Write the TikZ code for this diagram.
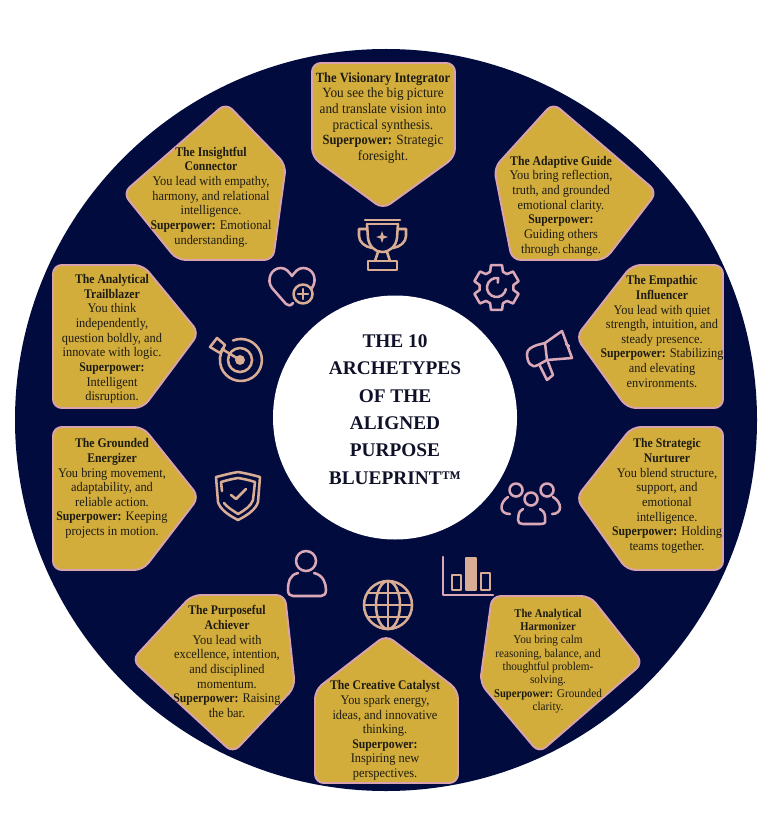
\documentclass[tikz,border=0pt]{standalone}
\usepackage{fontspec}
\setmainfont[FakeStretch=0.94, BoldFeatures={FakeStretch=0.89}]{Liberation Serif}
\newfontfamily\titlefont{Liberation Serif}
\definecolor{wheelnavy}{HTML}{020B3E}
\definecolor{cardgold}{HTML}{D2AD3C}
\definecolor{cardpink}{HTML}{D8A3AE}
\definecolor{iconpink}{HTML}{DAA8B6}
\definecolor{icontan}{HTML}{D9AC94}
\definecolor{cardink}{HTML}{1E1C12}
\definecolor{titleink}{HTML}{0F1128}
\tikzset{
    card/.style={fill=cardgold, draw=cardpink, line width=1.1pt, rounded corners=5pt},
    cardtext/.style={align=center, text=cardink, inner sep=0pt, font=\fontsize{7.5}{8.33}\selectfont},
    cardlarge/.style={cardtext, font=\fontsize{8}{8.88}\selectfont},
    cardsmall/.style={cardtext, font=\fontsize{6.8}{7.55}\selectfont},
    icon/.style={draw=iconpink, line width=1.45pt, line join=round, line cap=round},
    iconwarm/.style={icon, draw=icontan},
    titletext/.style={align=center, text=titleink, inner sep=0pt, font=\titlefont\fontsize{11}{15.6}\selectfont\bfseries}
}
\begin{document}
\begin{tikzpicture}[x=0.02cm, y=-0.02cm]
    \useasboundingbox (0,0) rectangle (768,817);

    % Wheel
    \fill[wheelnavy] (386,420) circle (371);
    \fill[white] (395,417.5) circle (122);
    \node[titletext] (title) at (395,409.5) {THE 10\\ARCHETYPES\\OF THE\\ALIGNED\\PURPOSE\\BLUEPRINT™};

    % Cards
    \draw[card] (312,63) -- (455,63) -- (455,157) -- (383,209) -- (312,157) -- cycle;
    \draw[card] (226,103) -- (286,165) -- (273,260) -- (177,260) -- (123,193) -- cycle;
    \draw[card] (553,103) -- (657,192) -- (605,260) -- (512,260) -- (494,168) -- cycle;
    \draw[card] (576,337) -- (632,265) -- (723,265) -- (723,408) -- (627,408) -- cycle;
    \draw[card] (576,498) -- (632,427) -- (723,427) -- (723,570) -- (627,570) -- cycle;
    \draw[card] (492,596) -- (590,596) -- (643,663) -- (539,753) -- (480,683) -- cycle;
    \draw[card] (386,635) -- (458,690) -- (458,783) -- (315,783) -- (315,690) -- cycle;
    \draw[card] (192,595) -- (285,595) -- (295,687) -- (233,753) -- (132,660) -- cycle;
    \draw[card] (53,427) -- (143,427) -- (199,497) -- (143,570) -- (53,570) -- cycle;
    \draw[card] (53,265) -- (143,265) -- (199,333) -- (143,408) -- (53,408) -- cycle;

    % Card texts
    \node[cardlarge] (visionary) at (383,118) {\textbf{The Visionary Integrator}\\You see the big picture\\and translate vision into\\practical synthesis.\\\textbf{Superpower:} Strategic\\foresight.};
    \node[cardtext] (insightful) at (211,197) {\textbf{The Insightful}\\\textbf{Connector}\\You lead with empathy,\\harmony, and relational\\intelligence.\\\textbf{Superpower:} Emotional\\understanding.};
    \node[cardtext] (adaptive) at (561,206) {\textbf{The Adaptive Guide}\\You bring reflection,\\truth, and grounded\\emotional clarity.\\\textbf{Superpower:}\\Guiding others\\through change.};
    \node[cardtext] (empathic) at (662,331.5) {\textbf{The Empathic}\\\textbf{Influencer}\\You lead with quiet\\strength, intuition, and\\steady presence.\\\textbf{Superpower:} Stabilizing\\and elevating\\environments.};
    \node[cardtext] (strategic) at (667,496) {\textbf{The Strategic}\\\textbf{Nurturer}\\You blend structure,\\support, and\\emotional\\intelligence.\\\textbf{Superpower:} Holding\\teams together.};
    \node[cardsmall] (harmonizer) at (548,661) {\textbf{The Analytical}\\\textbf{Harmonizer}\\You bring calm\\reasoning, balance, and\\thoughtful problem-\\solving.\\\textbf{Superpower:} Grounded\\clarity.};
    \node[cardtext] (creative) at (385,730.5) {\textbf{The Creative Catalyst}\\You spark energy,\\ideas, and innovative\\thinking.\\\textbf{Superpower:}\\Inspiring new\\perspectives.};
    \node[cardtext] (purposeful) at (227,661.5) {\textbf{The Purposeful}\\\textbf{Achiever}\\You lead with\\excellence, intention,\\and disciplined\\momentum.\\\textbf{Superpower:} Raising\\the bar.};
    \node[cardtext] (grounded) at (112,488.5) {\textbf{The Grounded}\\\textbf{Energizer}\\You bring movement,\\adaptability, and\\reliable action.\\\textbf{Superpower:} Keeping\\projects in motion.};
    \node[cardtext] (trailblazer) at (112,339) {\textbf{The Analytical}\\\textbf{Trailblazer}\\You think\\independently,\\question boldly, and\\innovate with logic.\\\textbf{Superpower:}\\Intelligent\\disruption.};

    % Trophy
    \draw[iconwarm] (365,220) -- (400,220) (367,224) -- (398,224);
    \draw[iconwarm] (367,224) -- (368,238) .. controls (369,246) and (375,252) .. (382,252) .. controls (390,252) and (396,246) .. (397,238) -- (398,224);
    \draw[iconwarm] (367,229) -- (359,229) -- (359,236) .. controls (359,242) and (365,247) .. (372,248);
    \draw[iconwarm] (398,229) -- (406,229) -- (406,236) .. controls (406,242) and (400,247) .. (393,248);
    \draw[iconwarm] (378,252) -- (375,261) (387,252) -- (390,261);
    \draw[iconwarm] (368,261) rectangle (397,270);
    \fill[icontan] (382,231) -- (383.5,235.5) -- (388,237) -- (383.5,238.5) -- (382,243) -- (380.5,238.5) -- (376,237) -- (380.5,235.5) -- cycle;

    % Heart
    \draw[icon] (312,288) .. controls (318,279) and (313,268) .. (303,268) .. controls (298,268) and (295,272) .. (292,276) .. controls (289,272) and (286,268) .. (281,268) .. controls (271,268) and (266,280) .. (272,288) -- (286,304) .. controls (288,306) and (291,306) .. (293,303);
    \draw[iconwarm] (303,294) circle (9.5);
    \draw[iconwarm] (298,294) -- (308,294) (303,289) -- (303,299);

    % Gear
    \begin{scope}[shift={(496.5,287.5)}]
        \foreach \a in {30,90,...,330}{
            \draw[icon] (\a-22:17) -- (\a-14:23) -- (\a+14:23) -- (\a+22:17) -- (\a+38:17);
        }
        \draw[icon] (10:9.5) arc (10:280:9.5) -- (285:5);
    \end{scope}

    % Megaphone
    \draw[icon] (545,343) -- (562,331) -- (572,358) -- (547,360) -- (538,365) .. controls (531,369) and (527,362) .. (527,354) .. controls (527,349) and (532,347) .. (537,345) -- (545,343);
    \draw[icon] (545,343) -- (547,360);
    \draw[icon] (540,366) -- (547,380) -- (553,375) -- (548,362);
    \draw[icon] (566,344) -- (569,346);

    % People
    \draw[icon] (516,490) circle (6.5) (547,490) circle (6.5) (531,499) circle (6.5);
    \draw[icon] (523,509) .. controls (517,512) and (519,517) .. (518,520) .. controls (518,523) and (520,524) .. (523,524) -- (540,524) .. controls (544,524) and (546,523) .. (545,520) .. controls (545,517) and (546,512) .. (540,509);
    \draw[icon] (508,497) .. controls (500,502) and (498,514) .. (510,514);
    \draw[icon] (553,497) .. controls (562,502) and (563,514) .. (552,514);

    % Chart
    \draw[icon] (443,557) -- (443,595) -- (493,595);
    \draw[iconwarm] (452,575) rectangle (461,590);
    \draw[iconwarm, fill=icontan] (466,558) rectangle (476,590);
    \draw[iconwarm] (481,573) rectangle (490,590);

    % Globe
    \draw[iconwarm] (388,605) circle (24);
    \draw[iconwarm] (388,605) ellipse (12 and 24);
    \draw[iconwarm] (388,581) -- (388,629) (364,605) -- (412,605) (368,593) -- (408,593) (368,617) -- (408,617);

    % Person
    \draw[icon] (306,561) circle (10);
    \draw[icon] (298,573) .. controls (289,575) and (288,583) .. (288,590) .. controls (288,594) and (290,596) .. (293,596) -- (321,596) .. controls (324,596) and (326,594) .. (326,590) .. controls (326,583) and (323,575) .. (314,573);

    % Shield
    \draw[iconwarm] (216,477) .. controls (228,474) and (232,473) .. (238,472) .. controls (244,473) and (249,474) .. (260,477) -- (258,502) .. controls (256,509) and (248,515) .. (238,520) .. controls (228,515) and (220,509) .. (218,502) -- cycle;
    \draw[iconwarm] (222,491) -- (221,482) .. controls (228,480) and (232,479) .. (238,478) .. controls (244,479) and (249,480) .. (255,482) -- (253,500) .. controls (251,506) and (245,510) .. (238,514) .. controls (232,510) and (227,507) .. (224,503);
    \draw[iconwarm] (231,495) -- (236,499) -- (246,489);

    % Target
    \draw[iconwarm] (233,340.5) arc (-112:215:21);
    \draw[iconwarm] (240,360) circle (12);
    \fill[icontan] (240,360) circle (5);
    \draw[iconwarm] (240,360) -- (222,349);
    \draw[iconwarm] (210,347) -- (217,338) -- (225,345) -- (220,353) -- cycle;
\end{tikzpicture}
\end{document}
